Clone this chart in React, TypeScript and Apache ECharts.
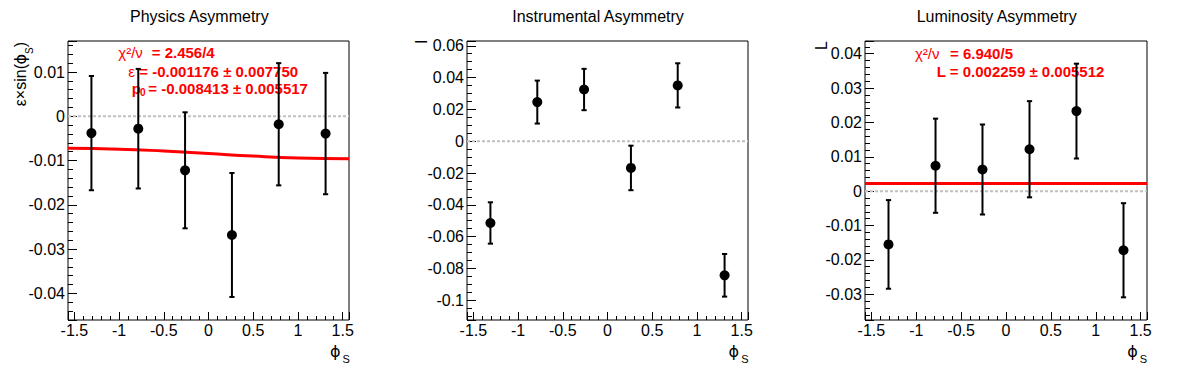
import React, { useEffect, useRef } from 'react';
import * as echarts from 'echarts';

const FONT = '"Liberation Sans", Arial, Helvetica, sans-serif';

// bin centres in phi_S
const phiBins = [-1.309, -0.785, -0.262, 0.262, 0.785, 1.309];

// Physics asymmetry
const physVals = [-0.0038, -0.0028, -0.0122, -0.0268, -0.0018, -0.0039];
const physErrs = [0.0129, 0.0135, 0.0131, 0.014, 0.0138, 0.0137];
// fit curve
const physFitX = [-1.5708, -1, -0.5, 0, 0.5, 1, 1.5708];
const physFitY = [-0.00724, -0.00742, -0.00785, -0.00841, -0.00898, -0.0094, -0.00959];

// Instrumental asymmetry
const instVals = [-0.0514, 0.0246, 0.0325, -0.0168, 0.0351, -0.0843];
const instErrs = [0.013, 0.0135, 0.013, 0.014, 0.0139, 0.0134];

// Luminosity asymmetry
const lumiVals = [-0.0155, 0.0074, 0.0063, 0.0122, 0.0233, -0.0172];
const lumiErrs = [0.0129, 0.0137, 0.0131, 0.014, 0.0138, 0.0137];
const lumiFitX = [-1.5708, 1.5708];
const lumiFitY = [0.002259, 0.002259];

const titles = ['Physics Asymmetry', 'Instrumental Asymmetry', 'Luminosity Asymmetry'];
const yRanges = [
  [-0.046, 0.017],
  [-0.1124, 0.063],
  [-0.0375, 0.0437],
];
const ySplit = [5, 8, 8];
const yMinor = [5, 4, 5];

const gridLefts = [68, 467, 865];
const gridWidths = [281, 281, 282];

function fmt(v: number) {
  return String(Math.round(v * 1e6) / 1e6);
}

function errRender(params: any, api: any) {
  const x = api.value(0);
  const y = api.value(1);
  const e = api.value(2);
  const top = api.coord([x, y + e]);
  const bot = api.coord([x, y - e]);
  const hw = 2.6;
  const st = { stroke: '#000', lineWidth: 2 };
  return {
    type: 'group',
    children: [
      { type: 'line', shape: { x1: top[0], y1: top[1], x2: bot[0], y2: bot[1] }, style: st },
      { type: 'line', shape: { x1: top[0] - hw, y1: top[1], x2: top[0] + hw, y2: top[1] }, style: st },
      { type: 'line', shape: { x1: bot[0] - hw, y1: bot[1], x2: bot[0] + hw, y2: bot[1] }, style: st },
    ],
  };
}

function txt(text: string, x: number, y: number, size: number, opts: any = {}) {
  const align = opts.align || 'left';
  return {
    type: 'text',
    x,
    y,
    rotation: opts.rotation || 0,
    silent: true,
    style: {
      text,
      fill: opts.fill || '#000',
      fontSize: size,
      fontFamily: opts.family || FONT,
      fontWeight: opts.bold ? 'bold' : 'normal',
      align,
      textAlign: align,
      verticalAlign: 'middle',
      textVerticalAlign: 'middle',
    },
  };
}

export default function App() {
  const ref = useRef<HTMLDivElement>(null);

  useEffect(() => {
    const chart = echarts.init(ref.current as HTMLDivElement, null, { renderer: 'svg' });

    const grids = gridLefts.map((l, i) => ({
      left: l,
      top: 41,
      width: gridWidths[i],
      height: 279,
      show: true,
      borderColor: '#000',
      borderWidth: 1,
      backgroundColor: 'transparent',
    }));

    const xAxes = gridLefts.map((_, i) => ({
      type: 'value',
      gridIndex: i,
      position: 'bottom',
      min: -Math.PI / 2,
      max: Math.PI / 2,
      splitNumber: 6,
      axisLine: { show: false, onZero: false },
      axisTick: { show: true, inside: true, length: 8, lineStyle: { color: '#000', width: 1 } },
      minorTick: { show: true, splitNumber: 5, length: 4, lineStyle: { color: '#000', width: 1 } },
      splitLine: { show: false },
      minorSplitLine: { show: false },
      axisLabel: {
        color: '#000',
        fontSize: 16,
        fontFamily: FONT,
        margin: 2,
        showMinLabel: false,
        showMaxLabel: false,
        formatter: (v: number) => (Math.abs(v) > 1.51 ? '' : fmt(v)),
      },
    }));

    const yAxes = gridLefts.map((_, i) => ({
      type: 'value',
      gridIndex: i,
      position: 'left',
      min: yRanges[i][0],
      max: yRanges[i][1],
      splitNumber: ySplit[i],
      axisLine: { show: false, onZero: false },
      axisTick: { show: true, inside: true, length: 9, lineStyle: { color: '#000', width: 1 } },
      minorTick: { show: true, splitNumber: yMinor[i], length: 5, lineStyle: { color: '#000', width: 1 } },
      splitLine: { show: false },
      minorSplitLine: { show: false },
      axisLabel: {
        color: '#000',
        fontSize: 16,
        fontFamily: FONT,
        margin: 3,
        showMinLabel: false,
        showMaxLabel: false,
        formatter: (v: number) => fmt(v),
      },
    }));

    const panelVals = [physVals, instVals, lumiVals];
    const panelErrs = [physErrs, instErrs, lumiErrs];

    const series: any[] = [];
    for (let i = 0; i < 3; i++) {
      series.push({
        type: 'line',
        xAxisIndex: i,
        yAxisIndex: i,
        data: [
          [-Math.PI / 2, 0],
          [Math.PI / 2, 0],
        ],
        showSymbol: false,
        symbol: 'none',
        silent: true,
        z: 1,
        lineStyle: { color: '#c0c0c0', width: 2, type: [3, 2] },
      });
    }
    series.push({
      type: 'line',
      xAxisIndex: 0,
      yAxisIndex: 0,
      data: physFitX.map((x, k) => [x, physFitY[k]]),
      smooth: true,
      showSymbol: false,
      symbol: 'none',
      z: 2,
      lineStyle: { color: '#ff0000', width: 3 },
    });
    series.push({
      type: 'line',
      xAxisIndex: 2,
      yAxisIndex: 2,
      data: lumiFitX.map((x, k) => [x, lumiFitY[k]]),
      showSymbol: false,
      symbol: 'none',
      z: 2,
      lineStyle: { color: '#ff0000', width: 3 },
    });
    for (let i = 0; i < 3; i++) {
      const data = phiBins.map((x, k) => [x, panelVals[i][k], panelErrs[i][k]]);
      series.push({
        type: 'custom',
        xAxisIndex: i,
        yAxisIndex: i,
        renderItem: errRender,
        data,
        encode: { x: 0, y: 1 },
        z: 3,
        silent: true,
      });
      series.push({
        type: 'scatter',
        xAxisIndex: i,
        yAxisIndex: i,
        data: phiBins.map((x, k) => [x, panelVals[i][k]]),
        symbol: 'circle',
        symbolSize: 10,
        itemStyle: { color: '#000', opacity: 1 },
        z: 4,
        silent: true,
      });
    }

    const padW = 1196 / 3;
    const graphic: any[] = [];
    titles.forEach((t, i) => {
      graphic.push(txt(t, padW * i + padW / 2, 16.5, 16, { align: 'center' }));
      // x axis title phi_S
      graphic.push(txt('\u03d5', 340.5 + padW * i, 351.5, 16, { align: 'right', family: '"DejaVu Sans", sans-serif' }));
      graphic.push(txt('S', 342.5 + padW * i, 359, 11, { align: 'left' }));
    });

    // y axis titles
    graphic.push({
      type: 'group',
      x: 20.5,
      y: 42,
      rotation: Math.PI / 2,
      children: [
        txt(')', 0, 0, 16, { align: 'right' }),
        txt('S', -5.3, 8.5, 10, { align: 'right' }),
        txt('\u03d5', -12, 0, 16, { align: 'right', family: '"DejaVu Sans", sans-serif' }),
        txt('\u03b5\u00d7sin(', -22, 0, 16, { align: 'right' }),
      ],
    });
    graphic.push(txt('I', 421.3, 39.5, 16, { align: 'right', rotation: Math.PI / 2 }));
    graphic.push(txt('L', 821, 41, 16, { align: 'right', rotation: Math.PI / 2 }));

    const red = '#ff0000';
    // physics fit box
    graphic.push(txt('\u03c7\u00b2/\u03bd', 118.3, 52.8, 15, { fill: red }));
    graphic.push(txt('= 2.456/4', 151.7, 52.8, 15, { fill: red, bold: true }));
    graphic.push(txt('\u03b5', 128.3, 71.7, 15, { fill: red }));
    graphic.push(txt('= -0.001176 \u00b1 0.007750', 139.3, 71.7, 15, { fill: red, bold: true }));
    graphic.push(txt('p', 131.7, 88.7, 15, { fill: red, bold: true }));
    graphic.push(txt('0', 140, 92.3, 10, { fill: red, bold: true }));
    graphic.push(txt('= -0.008413 \u00b1 0.005517', 148.3, 88.7, 15, { fill: red, bold: true }));
    // luminosity fit box
    graphic.push(txt('\u03c7\u00b2/\u03bd', 915, 53.3, 15, { fill: red }));
    graphic.push(txt('= 6.940/5', 950, 53.3, 15, { fill: red, bold: true }));
    graphic.push(txt('L = 0.002259 \u00b1 0.005512', 936.7, 71, 15, { fill: red, bold: true }));

    chart.setOption({
      animation: false,
      backgroundColor: '#fff',
      grid: grids,
      xAxis: xAxes,
      yAxis: yAxes,
      series,
      graphic,
    });

    return () => chart.dispose();
  }, []);

  return (
    <div
      ref={ref}
      style={{ position: 'absolute', left: 0, top: 0, width: 1196, height: 372, background: '#fff' }}
    />
  );
}
